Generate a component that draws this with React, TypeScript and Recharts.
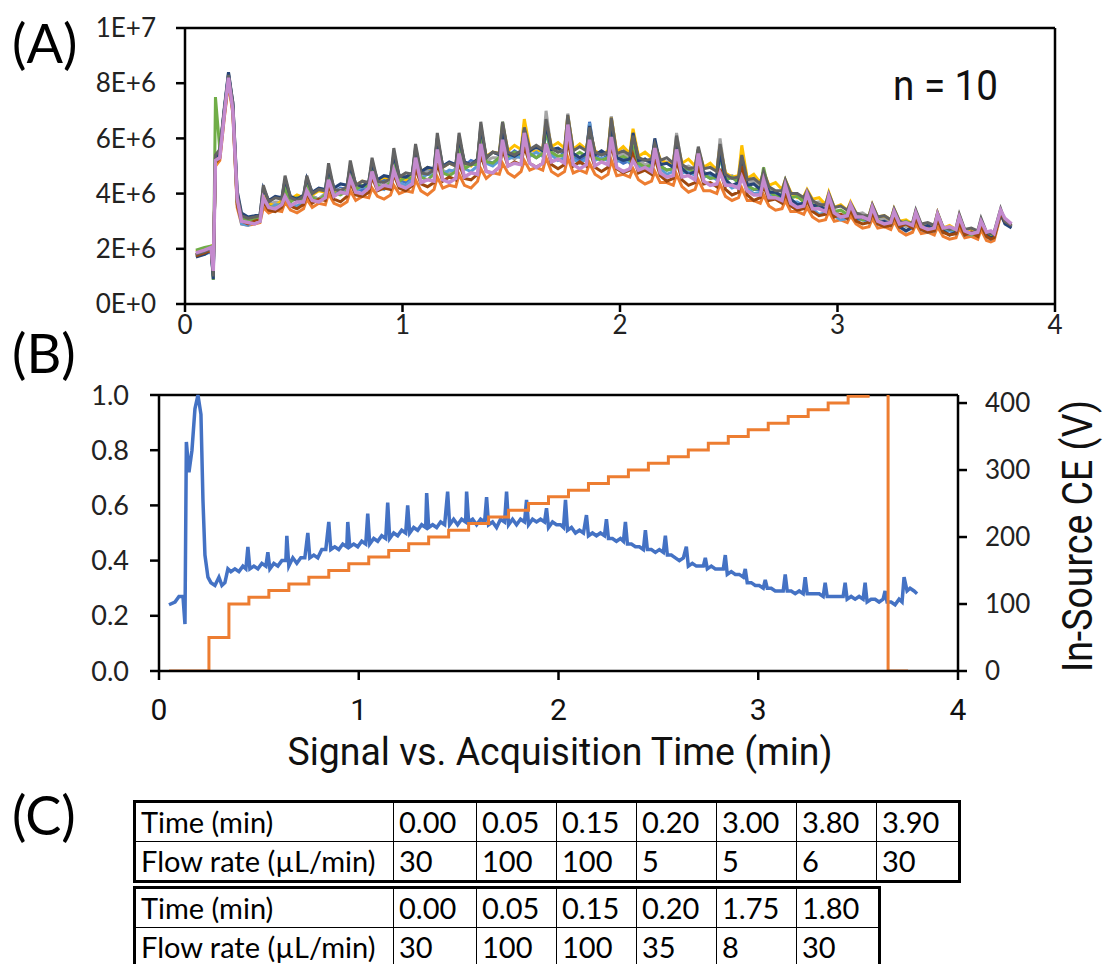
import React from 'react';
import { LineChart, Line, XAxis, YAxis, ReferenceLine } from 'recharts';

// Panel A: sample times (min) shared by the 10 injections, signal in units of 1E+6
const aTime = [
  0.05, 0.09, 0.12, 0.13, 0.14, 0.16, 0.18, 0.2, 0.22, 0.24, 0.26, 0.29, 0.32,
  0.345, 0.36, 0.385, 0.415, 0.445, 0.46, 0.485, 0.515, 0.545, 0.56, 0.585, 0.615, 0.645, 0.66, 0.685, 0.715, 0.745, 0.76, 0.785, 0.815,
  0.845, 0.86, 0.885, 0.915, 0.945, 0.96, 0.985, 1.015, 1.045, 1.06, 1.085, 1.115, 1.145, 1.16, 1.185, 1.215, 1.245, 1.26, 1.285, 1.315,
  1.345, 1.36, 1.385, 1.415, 1.445, 1.46, 1.485, 1.515, 1.545, 1.56, 1.585, 1.615, 1.645, 1.66, 1.685, 1.715, 1.745, 1.76, 1.785, 1.815,
  1.845, 1.86, 1.885, 1.915, 1.945, 1.96, 1.985, 2.015, 2.045, 2.06, 2.085, 2.115, 2.145, 2.16, 2.185, 2.215, 2.245, 2.26, 2.285, 2.315,
  2.345, 2.36, 2.385, 2.415, 2.445, 2.46, 2.485, 2.515, 2.545, 2.56, 2.585, 2.615, 2.645, 2.66, 2.685, 2.715, 2.745, 2.76, 2.785, 2.815,
  2.845, 2.86, 2.885, 2.915, 2.945, 2.96, 2.985, 3.015, 3.045, 3.06, 3.085, 3.115, 3.145, 3.16, 3.185, 3.215, 3.245, 3.26, 3.285, 3.315,
  3.345, 3.36, 3.385, 3.415, 3.445, 3.46, 3.485, 3.515, 3.545, 3.56, 3.585, 3.615, 3.645, 3.66, 3.685, 3.705,
  3.72, 3.75, 3.77, 3.8,
];

const runBlue = [
  1.8, 1.9, 2.0, 1.1, 5.2, 5.4, 6.9, 8.3, 7.2, 3.8, 3.1, 3.0, 3.05,
  3.1, 3.9, 3.6, 3.5, 3.7, 4.3, 3.75, 3.85, 3.8, 4.4, 3.9, 3.8, 4.0, 4.7, 4.05, 4.2, 4.15, 4.8, 4.2, 4.1,
  4.3, 5.0, 4.35, 4.5, 4.45, 5.2, 4.5, 4.4, 4.6, 5.4, 4.65, 4.85, 4.75, 5.7, 4.8, 4.7, 4.9, 5.8, 5.0, 5.2,
  5.1, 6.2, 5.2, 5.1, 5.3, 6.2, 5.35, 5.55, 5.4, 6.3, 5.45, 5.3, 5.45, 6.4, 5.5, 5.6, 5.4, 6.5, 5.35, 5.2,
  5.35, 6.6, 5.3, 5.45, 5.3, 6.4, 5.25, 5.1, 5.2, 5.9, 5.1, 5.25, 5.05, 5.8, 5.0, 4.85, 4.9, 5.7, 4.85, 4.95,
  4.75, 5.4, 4.7, 4.55, 4.6, 5.5, 4.5, 4.6, 4.4, 5.2, 4.3, 4.15, 4.15, 4.6, 4.05, 4.05, 3.9, 4.35, 3.8, 3.6,
  3.65, 4.0, 3.55, 3.55, 3.4, 3.85, 3.3, 3.15, 3.2, 3.55, 3.15, 3.2, 3.05, 3.45, 3.0, 2.85, 2.9, 3.3, 2.85, 2.95,
  2.8, 3.2, 2.75, 2.65, 2.7, 3.2, 2.65, 2.7, 2.6, 3.1, 2.55, 2.45, 2.5, 2.95, 2.5, 2.55,
  2.45, 3.3, 2.95, 2.8,
];
const runOrange = [
  1.8, 1.9, 2.0, 1.3, 5.0, 5.2, 6.7, 8.0, 6.9, 3.5, 2.9, 2.85, 2.9,
  2.95, 3.5, 3.3, 3.4, 3.35, 3.7, 3.4, 3.3, 3.45, 3.8, 3.5, 3.65, 3.6, 4.0, 3.65, 3.55, 3.7, 4.1, 3.75, 3.9,
  3.85, 4.2, 3.9, 3.8, 3.95, 4.3, 4.0, 4.1, 4.05, 4.5, 4.1, 3.95, 4.15, 4.6, 4.2, 4.3, 4.25, 4.7, 4.3, 4.2,
  4.45, 4.9, 4.55, 4.75, 4.7, 5.1, 4.75, 4.6, 4.8, 5.2, 4.85, 4.95, 4.85, 5.3, 4.8, 4.65, 4.8, 5.3, 4.75, 4.85,
  4.75, 5.1, 4.7, 4.55, 4.7, 5.2, 4.65, 4.7, 4.6, 4.9, 4.5, 4.35, 4.45, 4.8, 4.4, 4.4, 4.3, 4.7, 4.25, 4.05,
  4.15, 4.5, 4.1, 4.1, 4.0, 4.35, 3.9, 3.75, 3.85, 4.2, 3.75, 3.75, 3.65, 3.95, 3.55, 3.4, 3.45, 3.75, 3.35, 3.35,
  3.25, 3.5, 3.15, 3.0, 3.05, 3.35, 3.0, 3.05, 2.95, 3.2, 2.9, 2.75, 2.8, 3.1, 2.75, 2.8, 2.7, 3.0, 2.65, 2.5,
  2.6, 2.9, 2.55, 2.6, 2.5, 2.8, 2.45, 2.35, 2.4, 2.75, 2.4, 2.45, 2.35, 2.7, 2.3, 2.25,
  2.3, 3.2, 2.95, 2.8,
];
const runGray = [
  1.75, 1.85, 2.0, 1.1, 5.2, 5.5, 7.1, 8.4, 7.2, 3.8, 3.1, 3.0, 3.1,
  3.1, 4.1, 3.6, 3.7, 3.7, 4.5, 3.75, 3.85, 3.8, 4.6, 3.9, 3.8, 4.0, 4.9, 4.05, 4.15, 4.15, 5.0, 4.2, 4.3,
  4.3, 5.2, 4.35, 4.25, 4.45, 5.5, 4.5, 4.6, 4.6, 5.7, 4.65, 4.8, 4.75, 6.0, 4.85, 4.7, 4.9, 6.1, 5.0, 5.1,
  5.1, 6.5, 5.2, 5.3, 5.3, 6.4, 5.4, 5.25, 5.45, 6.5, 5.5, 5.6, 5.5, 7.0, 5.55, 5.6, 5.5, 6.9, 5.45, 5.3,
  5.45, 6.55, 5.4, 5.5, 5.4, 6.8, 5.35, 5.45, 5.3, 6.0, 5.2, 5.05, 5.15, 5.9, 5.1, 5.15, 5.0, 6.2, 4.95, 5.0,
  4.85, 5.5, 4.8, 4.6, 4.7, 6.0, 4.6, 4.65, 4.5, 5.3, 4.4, 4.45, 4.25, 4.7, 4.15, 3.95, 4.0, 4.4, 3.9, 3.9,
  3.75, 4.05, 3.65, 3.7, 3.5, 3.95, 3.4, 3.2, 3.3, 3.6, 3.25, 3.3, 3.15, 3.55, 3.1, 3.1, 3.0, 3.4, 2.95, 2.8,
  2.9, 3.35, 2.85, 2.9, 2.8, 3.3, 2.75, 2.8, 2.7, 3.2, 2.65, 2.5, 2.6, 3.05, 2.55, 2.6,
  2.55, 3.4, 2.95, 2.8,
];
const runYellow = [
  1.9, 2.0, 2.1, 1.5, 5.0, 5.4, 6.9, 8.1, 7.0, 3.7, 3.1, 3.05, 3.1,
  3.1, 3.9, 3.65, 3.55, 3.75, 4.3, 3.8, 3.95, 3.85, 4.5, 3.95, 4.1, 4.05, 4.7, 4.1, 4.0, 4.2, 4.9, 4.3, 4.45,
  4.35, 5.0, 4.45, 4.6, 4.5, 5.3, 4.6, 4.5, 4.7, 5.5, 4.8, 4.95, 4.85, 5.9, 4.95, 5.1, 5.0, 6.0, 5.1, 5.0,
  5.25, 6.3, 5.35, 5.5, 5.45, 6.5, 5.55, 5.75, 5.6, 6.7, 5.65, 5.5, 5.65, 6.6, 5.7, 5.85, 5.65, 6.8, 5.6, 5.8,
  5.6, 6.3, 5.55, 5.4, 5.55, 6.75, 5.5, 5.7, 5.45, 6.35, 5.35, 5.5, 5.3, 5.8, 5.25, 5.1, 5.15, 5.9, 5.1, 5.25,
  5.0, 5.6, 4.95, 5.1, 4.85, 5.7, 4.75, 4.6, 4.65, 5.75, 4.55, 4.7, 4.4, 4.8, 4.3, 4.4, 4.15, 4.5, 4.05, 3.85,
  3.9, 4.15, 3.8, 3.85, 3.6, 4.05, 3.5, 3.6, 3.4, 3.7, 3.3, 3.15, 3.2, 3.6, 3.15, 3.2, 3.05, 3.45, 3.0, 3.05,
  2.9, 3.35, 2.85, 2.75, 2.8, 3.3, 2.75, 2.85, 2.7, 3.2, 2.65, 2.7, 2.55, 3.0, 2.55, 2.45,
  2.5, 3.35, 3.0, 2.85,
];
const runLightBlue = [
  1.75, 1.8, 1.9, 1.0, 5.3, 5.5, 7.0, 8.3, 7.1, 3.7, 2.9, 2.85, 3.0,
  3.0, 3.8, 3.45, 3.6, 3.6, 4.2, 3.65, 3.55, 3.7, 4.3, 3.8, 3.7, 3.9, 4.6, 3.95, 4.1, 4.05, 4.7, 4.1, 4.25,
  4.2, 4.9, 4.25, 4.15, 4.35, 5.1, 4.4, 4.3, 4.5, 5.3, 4.55, 4.7, 4.65, 5.6, 4.7, 4.85, 4.8, 5.7, 4.9, 4.8,
  5.0, 6.1, 5.1, 5.0, 5.2, 6.1, 5.25, 5.35, 5.3, 6.2, 5.35, 5.5, 5.35, 6.3, 5.4, 5.2, 5.3, 6.4, 5.25, 5.1,
  5.25, 6.55, 5.2, 5.3, 5.2, 6.3, 5.15, 5.3, 5.1, 5.8, 5.0, 4.85, 4.95, 5.7, 4.9, 4.7, 4.8, 5.6, 4.75, 4.8,
  4.65, 5.3, 4.6, 4.65, 4.5, 5.4, 4.4, 4.2, 4.3, 5.1, 4.2, 4.0, 4.05, 4.5, 3.95, 3.95, 3.8, 4.3, 3.7, 3.7,
  3.55, 3.9, 3.45, 3.25, 3.3, 3.75, 3.2, 3.05, 3.1, 3.45, 3.05, 3.05, 2.95, 3.35, 2.9, 2.95, 2.85, 3.25, 2.8, 2.65,
  2.75, 3.15, 2.7, 2.6, 2.65, 3.1, 2.6, 2.65, 2.55, 3.0, 2.5, 2.6, 2.5, 2.9, 2.45, 2.35,
  2.45, 3.25, 2.95, 2.8,
];
const runGreen = [
  1.95, 2.05, 2.1, 0.87, 7.5, 5.6, 6.9, 8.2, 7.1, 3.7, 3.1, 3.0, 3.05,
  3.1, 3.8, 3.55, 3.45, 3.65, 4.2, 3.7, 3.85, 3.75, 4.3, 3.85, 3.75, 3.95, 4.6, 4.0, 3.95, 4.1, 4.8, 4.15, 4.3,
  4.25, 5.0, 4.3, 4.2, 4.4, 5.1, 4.45, 4.6, 4.55, 5.3, 4.6, 4.5, 4.7, 5.6, 4.75, 4.65, 4.8, 5.7, 4.9, 5.05,
  5.05, 6.1, 5.15, 5.1, 5.3, 6.6, 5.35, 5.5, 5.4, 6.2, 5.45, 5.3, 5.45, 6.3, 5.5, 5.35, 5.4, 6.5, 5.35, 5.5,
  5.35, 6.0, 5.3, 5.2, 5.3, 6.3, 5.25, 5.35, 5.2, 5.8, 5.1, 4.95, 5.05, 5.6, 5.0, 4.85, 4.9, 5.6, 4.85, 4.9,
  4.75, 5.3, 4.7, 4.55, 4.6, 5.4, 4.5, 4.6, 4.4, 5.2, 4.3, 4.15, 4.2, 4.95, 4.1, 3.9, 3.95, 4.45, 3.85, 3.9,
  3.7, 4.0, 3.6, 3.45, 3.45, 3.9, 3.35, 3.4, 3.25, 3.55, 3.2, 3.05, 3.1, 3.5, 3.05, 2.9, 2.95, 3.35, 2.9, 3.0,
  2.85, 3.25, 2.8, 2.7, 2.75, 3.2, 2.7, 2.75, 2.65, 3.1, 2.6, 2.5, 2.55, 2.95, 2.5, 2.55,
  2.45, 3.35, 3.0, 2.85,
];
const runNavy = [
  1.7, 1.8, 1.95, 0.9, 5.3, 5.5, 7.0, 8.4, 7.3, 4.1, 3.3, 3.15, 3.2,
  3.25, 4.2, 3.75, 3.9, 3.85, 4.5, 3.9, 3.8, 3.95, 4.55, 4.05, 4.2, 4.15, 4.9, 4.2, 4.35, 4.3, 5.0, 4.35, 4.25,
  4.45, 5.1, 4.5, 4.65, 4.6, 5.4, 4.65, 4.6, 4.75, 5.6, 4.8, 4.95, 4.9, 6.0, 5.0, 5.15, 5.05, 6.0, 5.15, 5.05,
  5.25, 6.4, 5.3, 5.5, 5.4, 6.3, 5.45, 5.35, 5.5, 6.3, 5.55, 5.7, 5.55, 6.5, 5.6, 5.65, 5.5, 6.6, 5.45, 5.3,
  5.45, 6.45, 5.4, 5.55, 5.4, 6.5, 5.3, 5.2, 5.25, 6.2, 5.2, 5.25, 5.1, 6.0, 5.05, 5.1, 4.95, 5.8, 4.9, 4.7,
  4.8, 5.6, 4.7, 4.75, 4.6, 5.5, 4.5, 4.3, 4.4, 5.3, 4.3, 4.35, 4.15, 4.6, 4.05, 4.05, 3.9, 4.3, 3.8, 3.6,
  3.65, 3.95, 3.55, 3.6, 3.4, 3.8, 3.3, 3.15, 3.2, 3.5, 3.1, 3.15, 3.0, 3.4, 2.95, 3.0, 2.9, 3.3, 2.8, 2.65,
  2.8, 3.2, 2.75, 2.85, 2.7, 3.15, 2.65, 2.5, 2.6, 3.05, 2.55, 2.6, 2.5, 2.95, 2.5, 2.4,
  2.45, 3.3, 2.9, 2.75,
];
const runBrown = [
  1.75, 1.85, 1.95, 1.2, 5.1, 5.3, 6.8, 8.1, 7.0, 3.6, 3.0, 2.9, 3.0,
  3.05, 3.7, 3.4, 3.35, 3.5, 3.9, 3.55, 3.45, 3.6, 4.0, 3.65, 3.8, 3.75, 4.3, 3.8, 3.7, 3.9, 4.4, 3.95, 3.9,
  4.05, 4.6, 4.1, 4.2, 4.15, 4.7, 4.2, 4.1, 4.3, 4.9, 4.35, 4.25, 4.4, 5.1, 4.45, 4.6, 4.5, 5.1, 4.55, 4.5,
  4.7, 5.4, 4.8, 4.75, 4.95, 5.6, 5.0, 5.15, 5.05, 5.7, 5.1, 4.95, 5.1, 5.8, 5.05, 4.9, 5.05, 5.9, 5.0, 5.15,
  5.0, 5.6, 4.95, 4.8, 4.95, 5.8, 4.9, 4.75, 4.85, 5.4, 4.75, 4.85, 4.7, 5.3, 4.65, 4.45, 4.55, 5.2, 4.5, 4.3,
  4.4, 5.0, 4.35, 4.4, 4.25, 4.9, 4.15, 3.95, 4.05, 5.0, 3.95, 3.75, 3.85, 4.3, 3.75, 3.8, 3.65, 4.0, 3.55, 3.4,
  3.45, 3.75, 3.35, 3.2, 3.25, 3.6, 3.15, 3.25, 3.1, 3.4, 3.0, 2.9, 2.95, 3.3, 2.9, 2.8, 2.85, 3.2, 2.8, 2.9,
  2.75, 3.1, 2.7, 2.6, 2.65, 3.05, 2.6, 2.5, 2.55, 2.95, 2.5, 2.6, 2.45, 2.85, 2.45, 2.35,
  2.4, 3.3, 3.0, 2.85,
];
const runDarkGray = [
  1.8, 1.9, 2.0, 1.0, 5.4, 5.6, 7.0, 8.3, 7.3, 4.0, 3.2, 3.1, 3.15,
  3.2, 4.3, 3.7, 3.85, 3.8, 4.65, 3.85, 3.75, 3.9, 4.65, 4.0, 4.15, 4.1, 5.1, 4.15, 4.1, 4.25, 5.2, 4.3, 4.45,
  4.4, 5.3, 4.45, 4.4, 4.55, 5.65, 4.6, 4.75, 4.7, 5.8, 4.75, 4.7, 4.85, 6.2, 4.95, 5.1, 5.0, 6.2, 5.1, 5.05,
  5.2, 6.6, 5.3, 5.5, 5.45, 6.6, 5.5, 5.4, 5.55, 6.4, 5.6, 5.75, 5.6, 6.7, 5.65, 5.5, 5.6, 6.85, 5.55, 5.7,
  5.55, 6.4, 5.5, 5.4, 5.5, 6.75, 5.45, 5.55, 5.4, 6.1, 5.3, 5.2, 5.25, 5.8, 5.2, 5.3, 5.1, 6.1, 5.05, 4.9,
  4.95, 5.7, 4.9, 4.95, 4.8, 5.8, 4.7, 4.55, 4.6, 5.4, 4.5, 4.55, 4.35, 4.8, 4.25, 4.1, 4.1, 4.5, 4.0, 4.0,
  3.85, 4.1, 3.75, 3.6, 3.6, 4.0, 3.5, 3.55, 3.4, 3.65, 3.3, 3.2, 3.2, 3.6, 3.15, 3.2, 3.05, 3.45, 3.0, 2.9,
  2.95, 3.4, 2.9, 2.95, 2.85, 3.3, 2.8, 2.7, 2.75, 3.25, 2.7, 2.75, 2.65, 3.1, 2.6, 2.55,
  2.6, 3.45, 3.0, 2.85,
];
const runPink = [
  1.85, 1.95, 2.05, 1.2, 5.2, 5.3, 6.8, 8.2, 7.0, 3.8, 3.0, 2.95, 2.9,
  3.0, 3.85, 3.5, 3.45, 3.6, 3.9, 3.55, 3.7, 3.7, 4.1, 3.75, 3.7, 3.85, 4.5, 3.9, 4.05, 4.0, 4.55, 4.05, 4.0,
  4.2, 4.8, 4.15, 4.3, 4.25, 4.85, 4.3, 4.2, 4.35, 5.3, 4.4, 4.5, 4.45, 5.6, 4.5, 4.4, 4.55, 5.45, 4.6, 4.75,
  4.7, 5.8, 4.8, 4.75, 4.95, 5.95, 5.0, 5.1, 5.05, 6.2, 5.1, 4.95, 5.1, 5.8, 5.15, 5.25, 5.1, 6.5, 5.05, 4.9,
  5.05, 5.95, 5.0, 5.15, 5.05, 6.05, 4.95, 4.8, 4.9, 5.2, 4.85, 4.95, 4.8, 5.65, 4.75, 4.6, 4.65, 5.6, 4.6, 4.65,
  4.5, 5.45, 4.45, 4.3, 4.35, 4.75, 4.3, 4.3, 4.2, 4.6, 4.1, 3.95, 3.95, 4.5, 3.85, 3.85, 3.75, 4.3, 3.65, 3.5,
  3.55, 4.0, 3.45, 3.45, 3.35, 3.9, 3.3, 3.15, 3.2, 3.6, 3.15, 3.15, 3.05, 3.5, 3.0, 2.9, 2.95, 3.35, 2.9, 2.95,
  2.85, 3.3, 2.8, 2.7, 2.75, 3.25, 2.75, 2.8, 2.7, 3.15, 2.65, 2.55, 2.6, 3.0, 2.6, 2.65,
  2.55, 3.4, 3.1, 2.9,
];

const runs = [runBlue, runOrange, runGray, runYellow, runLightBlue, runGreen, runNavy, runBrown, runDarkGray, runPink];
const runColors = ['#4472C4', '#ED7D31', '#A5A5A5', '#FFC000', '#5B9BD5', '#70AD47', '#264478', '#9E480E', '#636363', '#C48ACE'];
const aYTicks = [0, 2, 4, 6, 8, 10];
const aYLabels = ['0E+0', '2E+6', '4E+6', '6E+6', '8E+6', '1E+7'];
const xTicks = [0, 1, 2, 3, 4];

// Panel B: normalized signal
const bTime = [
  0.05, 0.08, 0.10, 0.12, 0.13, 0.137, 0.15, 0.165, 0.18, 0.195, 0.21, 0.22, 0.23, 0.245, 0.26, 0.28, 0.30, 0.315, 0.33, 0.345, 0.36, 0.38, 0.40, 0.42, 0.435,
  0.445, 0.455, 0.475, 0.495, 0.515, 0.535,
  0.545, 0.555, 0.575, 0.595, 0.615, 0.635,
  0.64, 0.65, 0.67, 0.69, 0.71, 0.73,
  0.745, 0.755, 0.775, 0.795, 0.815, 0.835,
  0.85, 0.86, 0.88, 0.90, 0.92, 0.94,
  0.945, 0.955, 0.975, 0.995, 1.015, 1.035,
  1.045, 1.055, 1.075, 1.095, 1.115, 1.135,
  1.145, 1.155, 1.175, 1.195, 1.215, 1.235,
  1.245, 1.255, 1.275, 1.295, 1.315, 1.335,
  1.34, 1.35, 1.37, 1.39, 1.41, 1.43,
  1.445, 1.455, 1.475, 1.495, 1.515, 1.535,
  1.54, 1.55, 1.57, 1.59, 1.61, 1.63,
  1.64, 1.65, 1.67, 1.69, 1.71, 1.73,
  1.74, 1.75, 1.77, 1.79, 1.81, 1.83,
  1.84, 1.85, 1.87, 1.89, 1.91, 1.93,
  1.94, 1.95, 1.97, 1.99, 2.01, 2.025,
  2.035, 2.045, 2.065, 2.085, 2.105, 2.125,
  2.14, 2.15, 2.17, 2.19, 2.21, 2.23,
  2.24, 2.25, 2.27, 2.29, 2.31, 2.325,
  2.335, 2.345, 2.365, 2.385, 2.405, 2.425,
  2.435, 2.445, 2.465, 2.485, 2.505, 2.525,
  2.535, 2.545, 2.565, 2.585, 2.605, 2.625,
  2.64, 2.65, 2.67, 2.69, 2.71, 2.725,
  2.735, 2.745, 2.765, 2.785, 2.805, 2.825,
  2.835, 2.845, 2.865, 2.885, 2.905, 2.925,
  2.935, 2.945, 2.965, 2.985, 3.005, 3.025,
  3.035, 3.045, 3.065, 3.085, 3.105, 3.125,
  3.135, 3.145, 3.165, 3.185, 3.205, 3.225,
  3.235, 3.245, 3.265, 3.285, 3.305, 3.325,
  3.335, 3.345, 3.365, 3.385, 3.405, 3.425,
  3.435, 3.445, 3.465, 3.485, 3.505, 3.525,
  3.535, 3.545, 3.565, 3.585, 3.605, 3.625,
  3.635, 3.645, 3.665, 3.685, 3.705, 3.72,
  3.73, 3.745, 3.76, 3.78, 3.795,
];
const bSignal = [
  0.24, 0.25, 0.27, 0.27, 0.17, 0.83, 0.72, 0.80, 0.95, 1.00, 0.93, 0.62, 0.42, 0.34, 0.32, 0.31, 0.34, 0.31, 0.32, 0.37, 0.36, 0.37, 0.36, 0.38, 0.37,
  0.45, 0.37, 0.38, 0.37, 0.39, 0.38,
  0.43, 0.37, 0.39, 0.38, 0.40, 0.40,
  0.49, 0.38, 0.41, 0.39, 0.41, 0.41,
  0.50, 0.41, 0.42, 0.41, 0.44, 0.44,
  0.54, 0.44, 0.45, 0.44, 0.46, 0.45,
  0.54, 0.45, 0.46, 0.45, 0.47, 0.46,
  0.57, 0.46, 0.48, 0.47, 0.49, 0.48,
  0.61, 0.48, 0.50, 0.49, 0.51, 0.50,
  0.60, 0.50, 0.52, 0.51, 0.53, 0.52,
  0.645, 0.52, 0.53, 0.52, 0.54, 0.53,
  0.65, 0.53, 0.55, 0.53, 0.55, 0.54,
  0.65, 0.54, 0.55, 0.53, 0.55, 0.54,
  0.63, 0.53, 0.54, 0.52, 0.55, 0.54,
  0.65, 0.53, 0.55, 0.53, 0.55, 0.54,
  0.62, 0.53, 0.55, 0.54, 0.55, 0.54,
  0.59, 0.52, 0.54, 0.53, 0.53, 0.52,
  0.62, 0.51, 0.52, 0.50, 0.51, 0.50,
  0.565, 0.49, 0.50, 0.49, 0.50, 0.49,
  0.55, 0.48, 0.48, 0.47, 0.48, 0.47,
  0.54, 0.46, 0.46, 0.45, 0.45, 0.44,
  0.51, 0.44, 0.44, 0.43, 0.44, 0.43,
  0.49, 0.42, 0.42, 0.41, 0.40, 0.41,
  0.45, 0.38, 0.39, 0.38, 0.38, 0.38,
  0.41, 0.37, 0.38, 0.37, 0.37, 0.37,
  0.42, 0.35, 0.36, 0.35, 0.35, 0.34,
  0.37, 0.32, 0.32, 0.31, 0.31, 0.30,
  0.33, 0.30, 0.30, 0.29, 0.29, 0.29,
  0.35, 0.29, 0.29, 0.28, 0.29, 0.28,
  0.34, 0.28, 0.28, 0.28, 0.28, 0.27,
  0.32, 0.27, 0.27, 0.27, 0.27, 0.27,
  0.32, 0.26, 0.27, 0.26, 0.27, 0.26,
  0.32, 0.25, 0.26, 0.26, 0.25, 0.26,
  0.29, 0.25, 0.25, 0.24, 0.26, 0.25,
  0.34, 0.29, 0.30, 0.29, 0.28,
];

// Panel B: in-source CE ramp (V)
const ceTime = [
  0.05, 0.25, 0.35, 0.45, 0.55, 0.65, 0.75, 0.85, 0.95, 1.05, 1.15, 1.25, 1.35, 1.45, 1.55, 1.65, 1.75, 1.85, 1.95,
  2.05, 2.15, 2.25, 2.35, 2.45, 2.55, 2.65, 2.75, 2.85, 2.95, 3.05, 3.15, 3.25, 3.35, 3.45, 3.55, 3.65, 3.75,
];
const ceVolts = [
  0, 50, 100, 110, 120, 130, 140, 150, 160, 170, 180, 190, 200, 210, 220, 230, 240, 250, 260,
  270, 280, 290, 300, 310, 320, 330, 340, 350, 360, 370, 380, 390, 400, 410, 420, 0, 0,
];
const bLeftTicks = [0, 0.2, 0.4, 0.6, 0.8, 1.0];
const bRightTicks = [0, 100, 200, 300, 400];

// Panel C: flow programs
const flowTime1 = ['0.00', '0.05', '0.15', '0.20', '3.00', '3.80', '3.90'];
const flowRate1 = ['30', '100', '100', '5', '5', '6', '30'];
const flowTime2 = ['0.00', '0.05', '0.15', '0.20', '1.75', '1.80'];
const flowRate2 = ['30', '100', '100', '35', '8', '30'];

const aRows = aTime.map((t, i) => {
  const row: Record<string, number> = { t };
  runs.forEach((r, k) => { row['r' + k] = r[i]; });
  return row;
});
const bRows = bTime.map((t, i) => ({ t, v: bSignal[i] }));
const ceRows = ceTime.map((t, i) => ({ t, v: ceVolts[i] }));

const calibri = "Lato, 'Open Sans', sans-serif";
const din = "Roboto, 'Noto Sans', sans-serif";
const ink = { stroke: '#000', strokeWidth: 2.5 };

function PanelA() {
  return (
    <LineChart width={1108} height={340} data={aRows} margin={{ top: 28, right: 53, bottom: 0, left: 0 }}>
      <XAxis type="number" dataKey="t" domain={[0, 4]} ticks={xTicks} height={36} tickSize={8} tickMargin={4}
        axisLine={ink} tickLine={ink} tick={{ fill: '#222', fontSize: 26, fontFamily: calibri }} />
      <YAxis type="number" domain={[0, 10]} ticks={aYTicks} width={185} tickSize={9} tickMargin={20}
        tickFormatter={(v: number) => aYLabels[aYTicks.indexOf(v)]}
        axisLine={ink} tickLine={ink} tick={{ fill: '#222', fontSize: 26, fontFamily: calibri }} />
      <ReferenceLine y={10} stroke="#000" strokeWidth={2.5} />
      <ReferenceLine x={4} stroke="#000" strokeWidth={2.5} />
      {runs.map((_, k) => (
        <Line key={k} dataKey={'r' + k} stroke={runColors[k]} strokeWidth={k === 9 ? 3.5 : 3} dot={false} isAnimationActive={false} />
      ))}
    </LineChart>
  );
}

function PanelB() {
  return (
    <LineChart width={1108} height={420} margin={{ top: 35, right: 0, bottom: 0, left: 0 }}>
      <XAxis type="number" dataKey="t" domain={[0, 4]} ticks={xTicks} height={109} tickSize={9} tickMargin={19}
        axisLine={ink} tickLine={ink} tick={{ fill: '#111', fontSize: 30, fontFamily: din }} />
      <YAxis yAxisId="l" type="number" domain={[0, 1]} ticks={bLeftTicks} width={159} tickSize={9} tickMargin={21}
        tickFormatter={(v: number) => v.toFixed(1)}
        axisLine={ink} tickLine={ink} tick={{ fill: '#222', fontSize: 27, fontFamily: calibri }} />
      <YAxis yAxisId="r" orientation="right" type="number" domain={[0, 412]} ticks={bRightTicks} width={150} tickSize={9} tickMargin={18}
        allowDataOverflow axisLine={ink} tickLine={ink} tick={{ fill: '#222', fontSize: 26, fontFamily: calibri }} />
      <ReferenceLine yAxisId="l" y={1} stroke="#000" strokeWidth={2.5} />
      <Line yAxisId="l" data={bRows} dataKey="v" stroke="#4472C4" strokeWidth={3.5} dot={false} isAnimationActive={false} />
      <Line yAxisId="r" data={ceRows} dataKey="v" type="stepAfter" stroke="#ED7D31" strokeWidth={3} dot={false} isAnimationActive={false} />
    </LineChart>
  );
}

const cell: React.CSSProperties = {
  border: '1.5px solid #000', padding: '0 0 0 5px', height: 38, lineHeight: '38px',
  whiteSpace: 'nowrap', textAlign: 'left', overflow: 'hidden',
};

function FlowTable({ times, rates, top, widths }: { times: string[]; rates: string[]; top: number; widths: number[] }) {
  const total = widths.reduce((a, b) => a + b, 0);
  return (
    <table style={{ position: 'absolute', left: 133, top, width: total, borderCollapse: 'collapse', border: '3px solid #000',
      fontFamily: calibri, fontSize: 29, color: '#000', tableLayout: 'fixed' }}>
      <colgroup>{widths.map((w, i) => <col key={i} style={{ width: w }} />)}</colgroup>
      <tbody>
        <tr><td style={cell}>Time (min)</td>{times.map((s, i) => <td key={i} style={cell}>{s}</td>)}</tr>
        <tr><td style={cell}>Flow rate (µL/min)</td>{rates.map((s, i) => <td key={i} style={cell}>{s}</td>)}</tr>
      </tbody>
    </table>
  );
}

const panelLabel: React.CSSProperties = { position: 'absolute', left: 12, fontFamily: calibri, fontSize: 54, color: '#000', lineHeight: 1 };

export default function App() {
  return (
    <div style={{ position: 'absolute', left: 0, top: 0, width: 1108, height: 964, background: '#fff', overflow: 'hidden' }}>
      <div style={{ position: 'absolute', left: 0, top: 0 }}><PanelA /></div>
      <div style={{ position: 'absolute', left: 0, top: 360 }}><PanelB /></div>
      <svg width={1108} height={964} style={{ position: 'absolute', left: 0, top: 0, pointerEvents: 'none' }}>
        <text x={893} y={100} fontFamily={din} fontSize={42} fill="#111" textLength={105} lengthAdjust="spacingAndGlyphs">n = 10</text>
        <text x={560} y={765} fontFamily={din} fontSize={38} fill="#111" textAnchor="middle" textLength={545} lengthAdjust="spacingAndGlyphs">
          Signal vs. Acquisition Time (min)
        </text>
        <text transform="translate(1092, 536) rotate(-90)" x={0} y={0} fontFamily={din} fontSize={42} fill="#111" textAnchor="middle"
          textLength={272} lengthAdjust="spacingAndGlyphs">In-Source CE (V)</text>
      </svg>
      <div style={{ ...panelLabel, top: 16 }}>(A)</div>
      <div style={{ ...panelLabel, top: 326 }}>(B)</div>
      <div style={{ ...panelLabel, top: 788 }}>(C)</div>
      <FlowTable times={flowTime1} rates={flowRate1} top={800} widths={[259, 83, 80, 80, 80, 80, 80, 83]} />
      <FlowTable times={flowTime2} rates={flowRate2} top={886} widths={[259, 83, 80, 80, 80, 80, 83]} />
    </div>
  );
}
